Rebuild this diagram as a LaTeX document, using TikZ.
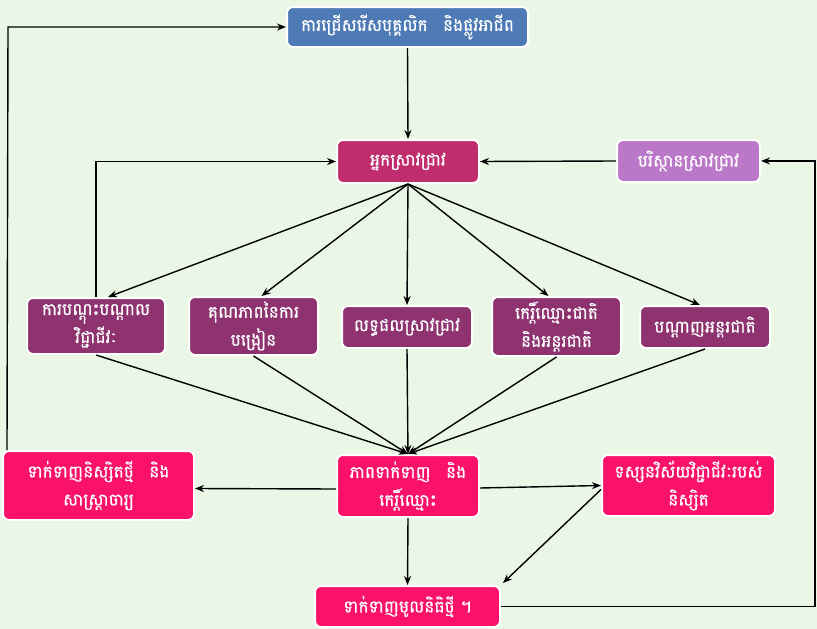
\documentclass[tikz,border=0pt]{standalone}
\usepackage{fontspec}
\newfontfamily\khmerfont[Script=Khmer,FakeBold=0.6]{Battambang}
\usetikzlibrary{arrows.meta,calc}

\definecolor{bggreen}{HTML}{EBF7E6}
\definecolor{boxblue}{HTML}{4E7AB5}
\definecolor{boxrasp}{HTML}{C02D6E}
\definecolor{boxlilac}{HTML}{BB77C8}
\definecolor{boxplum}{HTML}{8E3370}
\definecolor{boxpink}{HTML}{FA116A}

\newcommand{\widegap}{\hspace{0.9em}}

\tikzset{
  x=1pt, y=-1pt,
  box/.style={draw=white, line width=2pt, rounded corners=6pt, text=white,
    font=\khmerfont\fontsize{17}{28}\selectfont, align=center, inner sep=2pt},
  link/.style={draw=black, line width=1.4pt, -{Stealth[length=9pt,width=7pt]}}
}

\begin{document}
\begin{tikzpicture}
  % canvas
  \fill[bggreen] (0,0) rectangle (817,629);
  \useasboundingbox (0,0) rectangle (817,629);

  % top
  \node[box, fill=boxblue, minimum width=241pt, minimum height=40pt] (top) at (407.5,27) {ការជ្រើសរើសបុគ្គលិក\widegap និងផ្លូវអាជីព};

  % researcher and environment
  \node[box, fill=boxrasp, minimum width=142pt, minimum height=43pt] (res) at (408,161.5) {អ្នកស្រាវជ្រាវ};
  \node[box, fill=boxlilac, minimum width=143pt, minimum height=42pt] (env) at (688.5,161) {បរិស្ថានស្រាវជ្រាវ};

  % middle row
  \node[box, fill=boxplum, minimum width=138pt, minimum height=56pt] (b4) at (96,326) {ការបណ្តុះបណ្តាល\\វិជ្ជាជីវៈ};
  \node[box, fill=boxplum, minimum width=129pt, minimum height=58pt] (b5) at (253.5,326) {គុណភាពនៃការ\\បង្រៀន};
  \node[box, fill=boxplum, minimum width=130pt, minimum height=42pt] (b6) at (407,327) {លទ្ធផលស្រាវជ្រាវ};
  \node[box, fill=boxplum, minimum width=129pt, minimum height=59pt] (b7) at (556.5,326.5) {កេរ្តិ៍ឈ្មោះជាតិ\\និងអន្តរជាតិ};
  \node[box, fill=boxplum, minimum width=130pt, minimum height=42pt] (b8) at (705,327) {បណ្តាញអន្តរជាតិ};

  % lower row
  \node[box, fill=boxpink, minimum width=191pt, minimum height=69pt] (b9) at (98.5,485.5) {ទាក់ទាញនិស្សិតថ្មី\widegap និង\\សាស្ត្រាចារ្យ};
  \node[box, fill=boxpink, minimum width=142pt, minimum height=62pt] (b10) at (408,486) {ភាពទាក់ទាញ\widegap និង\\កេរ្តិ៍ឈ្មោះ};
  \node[box, fill=boxpink, minimum width=173pt, minimum height=61pt] (b11) at (688.5,485.5) {ទស្សនវិស័យវិជ្ជាជីវៈរបស់\\និស្សិត};
  \node[box, fill=boxpink, minimum width=185pt, minimum height=41pt] (b12) at (407.5,606.5) {ទាក់ទាញមូលនិធិថ្មី ។};

  % loop corners
  \coordinate (lc) at (8,27);
  \coordinate (rc) at (815,161);

  % connectors
  \draw[link] (top.south) -- (res.north);
  \draw[link] (env.west) -- (res.east);
  \draw[link] (b4.north) |- (res.west);

  \draw[link] (res.south) -- ($(b4.north)+(12,0)$);
  \draw[link] (res.south) -- ($(b5.north)+(8,0)$);
  \draw[link] (res.south) -- (b6.north);
  \draw[link] (res.south) -- ($(b7.north)+(-8,0)$);
  \draw[link] (res.south) -- ($(b8.north)+(-5,0)$);

  \draw[link] (b4.south) -- (b10.north);
  \draw[link] (b5.south) -- (b10.north);
  \draw[link] (b6.south) -- (b10.north);
  \draw[link] (b7.south) -- (b10.north);
  \draw[link] (b8.south) -- (b10.north);

  \draw[link] ($(b10.west)+(0,3)$) -- ($(b9.east)+(0,3)$);
  \draw[link] ($(b10.east)+(0,2)$) -- (b11.west);
  \draw[link] ($(b11.west)+(0,4)$) -- ($(b12.north east)+(2,-2)$);
  \draw[link] (b10.south) -- (b12.north);

  \draw[link] (b12.east) -| (rc) -- (env.east);
  \draw[link] ($(b9.north west)+(5,0)$) -- (lc) -- (top.west);
\end{tikzpicture}
\end{document}
